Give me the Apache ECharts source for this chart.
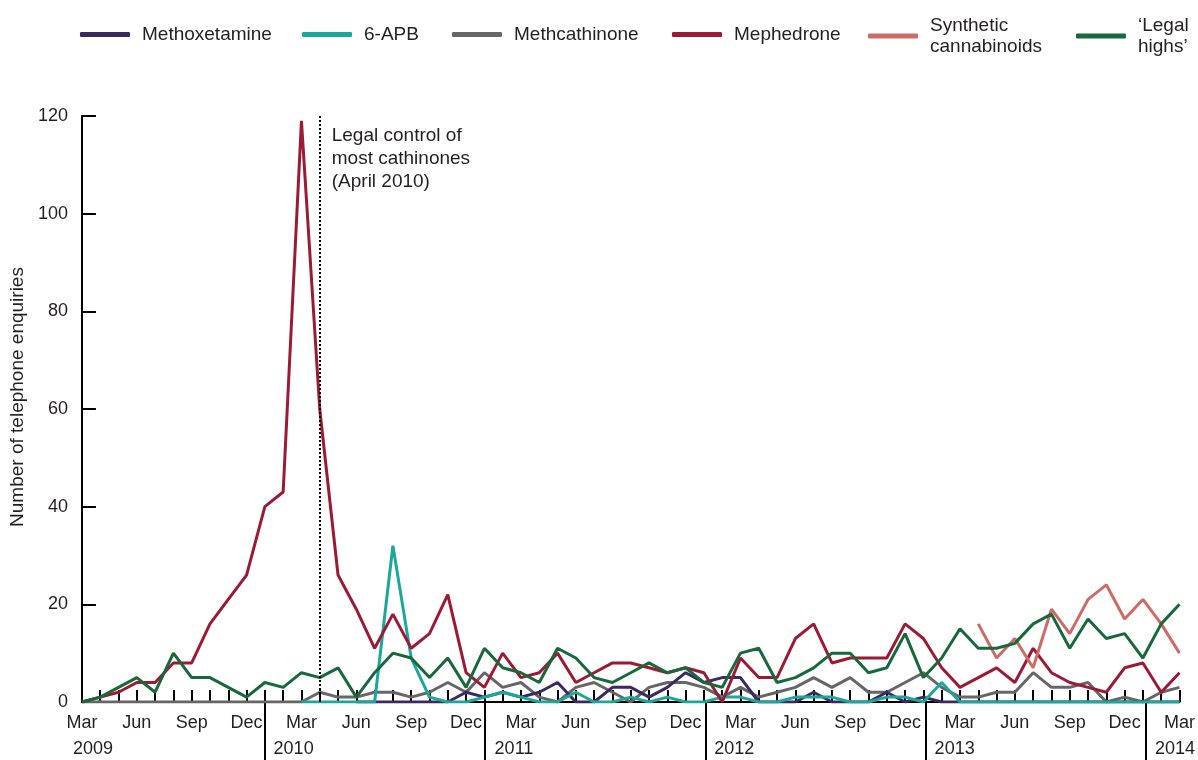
<!DOCTYPE html>
<html>
<head>
<meta charset="utf-8">
<script src="https://cdn.jsdelivr.net/npm/echarts@6/dist/echarts.min.js"></script>
<style>
  html, body { margin: 0; background: #fff; }
  #chart { width: 1198px; height: 760px; }
</style>
</head>
<body>
<div id="chart"></div>
<script>
// monthly telephone enquiries, Mar 2009 - Mar 2014
const months = [
  'Mar 2009', 'Apr 2009', 'May 2009', 'Jun 2009', 'Jul 2009', 'Aug 2009', 'Sep 2009', 'Oct 2009', 'Nov 2009', 'Dec 2009',
  'Jan 2010', 'Feb 2010', 'Mar 2010', 'Apr 2010', 'May 2010', 'Jun 2010', 'Jul 2010', 'Aug 2010', 'Sep 2010', 'Oct 2010', 'Nov 2010', 'Dec 2010',
  'Jan 2011', 'Feb 2011', 'Mar 2011', 'Apr 2011', 'May 2011', 'Jun 2011', 'Jul 2011', 'Aug 2011', 'Sep 2011', 'Oct 2011', 'Nov 2011', 'Dec 2011',
  'Jan 2012', 'Feb 2012', 'Mar 2012', 'Apr 2012', 'May 2012', 'Jun 2012', 'Jul 2012', 'Aug 2012', 'Sep 2012', 'Oct 2012', 'Nov 2012', 'Dec 2012',
  'Jan 2013', 'Feb 2013', 'Mar 2013', 'Apr 2013', 'May 2013', 'Jun 2013', 'Jul 2013', 'Aug 2013', 'Sep 2013', 'Oct 2013', 'Nov 2013', 'Dec 2013',
  'Jan 2014', 'Feb 2014', 'Mar 2014'
]

const methoxetamine = [
  null, null, null, null, null, null, null, null, null, null,
  null, null, null, null, null, 0, 0, 0, 0, 0, 0, 2,
  1, 2, 1, 2, 4, 0, 0, 3, 3, 1, 3, 6,
  4, 5, 5, 0, 0, 0, 2, 0, 0, 0, 2, 0,
  1, 0, 0, 0, 0, 0, 0, 0, 0, 0, 0, 0,
  0, 0, 0
]
const apb = [
  null, null, null, null, null, null, null, null, null, null,
  null, null, 0, 0, 0, 0, 0, 32, 9, 1, 0, 0,
  1, 2, 1, 0, 0, 2, 0, 0, 1, 0, 1, 0,
  0, 1, 1, 0, 0, 1, 1, 1, 0, 0, 1, 1,
  0, 4, 0, 0, 0, 0, 0, 0, 0, 0, 0, 0,
  0, 0, 0
]
const methcathinone = [
  0, 0, 0, 0, 0, 0, 0, 0, 0, 0,
  0, 0, 0, 2, 1, 1, 2, 2, 1, 2, 4, 2,
  6, 3, 4, 1, 0, 3, 4, 2, 0, 3, 4, 4,
  3, 1, 3, 1, 2, 3, 5, 3, 5, 2, 2, 4,
  6, 3, 1, 1, 2, 2, 6, 3, 3, 4, 0, 1,
  0, 2, 3
]
const mephedrone = [
  0, 1, 2, 4, 4, 8, 8, 16, 21, 26,
  40, 43, 119, 60, 26, 19, 11, 18, 11, 14, 22, 6,
  3, 10, 5, 6, 10, 4, 6, 8, 8, 7, 6, 7,
  6, 0, 9, 5, 5, 13, 16, 8, 9, 9, 9, 16,
  13, 7, 3, 5, 7, 4, 11, 6, 4, 3, 2, 7,
  8, 2, 6
]
const cannabinoids = [
  null, null, null, null, null, null, null, null, null, null,
  null, null, null, null, null, null, null, null, null, null, null, null,
  null, null, null, null, null, null, null, null, null, null, null, null,
  null, null, null, null, null, null, null, null, null, null, null, null,
  null, null, null, 16, 9, 13, 7, 19, 14, 21, 24, 17,
  21, 16, 10
]
const legalHighs = [
  0, 1, 3, 5, 2, 10, 5, 5, 3, 1,
  4, 3, 6, 5, 7, 1, 6, 10, 9, 5, 9, 3,
  11, 7, 6, 4, 11, 9, 5, 4, 6, 8, 6, 7,
  4, 3, 10, 11, 4, 5, 7, 10, 10, 6, 7, 14,
  5, 9, 15, 11, 11, 12, 16, 18, 11, 17, 13, 14,
  9, 16, 20
]

const controlMonth = 'Apr 2010'
const controlNote = 'Legal control of\nmost cathinones\n(April 2010)'

const font = 'Liberation Sans, Arial, Helvetica, sans-serif'
const ink = '#231f20'

const chart = echarts.init(document.getElementById('chart'))

function line(name, data, color) {
  return {
    name: name,
    type: 'line',
    data: data,
    showSymbol: false,
    connectNulls: false,
    lineStyle: { color: color, width: 3 },
    itemStyle: { color: color },
    emphasis: { disabled: true },
    animation: false
  }
}

const legendNames = ['Methoxetamine', '6-APB', 'Methcathinone', 'Mephedrone', 'Synthetic cannabinoids', '\u2018Legal highs\u2019']
const legendLeft = [80, 302, 452, 672, 868, 1076]

const isJan = v => v.indexOf('Jan') === 0

const mephedroneSeries = line('Mephedrone', mephedrone, '#9b1b35')
mephedroneSeries.markLine = {
  silent: true,
  symbol: 'none',
  label: { show: false },
  lineStyle: { type: 'dotted', color: '#000', width: 2 },
  data: [{ xAxis: controlMonth }]
}
mephedroneSeries.markPoint = {
  silent: true,
  symbol: 'circle',
  symbolSize: 0,
  data: [{ coord: [controlMonth, 120] }],
  label: {
    show: true,
    position: [12, 8],
    align: 'left',
    verticalAlign: 'top',
    formatter: controlNote,
    fontFamily: font,
    fontSize: 19,
    lineHeight: 23,
    color: ink
  }
}

chart.setOption({
  animation: false,
  backgroundColor: '#fff',
  textStyle: { fontFamily: font },
  legend: legendNames.map((n, k) => ({
    data: [n],
    left: legendLeft[k],
    top: k >= 4 ? 15 : 24,
    padding: 0,
    icon: 'roundRect',
    itemWidth: 50,
    itemHeight: 5,
    selectedMode: false,
    formatter: name => (k >= 4 ? name.replace(' ', '\n') : name),
    textStyle: { fontFamily: font, fontSize: 19, color: ink, lineHeight: 21, padding: [0, 0, 0, 7] }
  })),
  grid: [
    { left: 81, right: 14, top: 116, bottom: 58 },
    { left: 81, right: 14, top: 116, bottom: 58 }
  ],
  xAxis: [
    {
      type: 'category',
      gridIndex: 0,
      data: months,
      boundaryGap: false,
      axisLine: { lineStyle: { color: '#000', width: 2 } },
      axisTick: { inside: true, length: 12, interval: 0, lineStyle: { color: '#000', width: 2 } },
      axisLabel: {
        interval: 2,
        margin: 12,
        formatter: v => v.slice(0, 3),
        fontFamily: font,
        fontSize: 18,
        color: ink
      },
      splitLine: { show: false }
    },
    {
      type: 'category',
      gridIndex: 1,
      data: months,
      boundaryGap: false,
      axisLine: { show: false },
      axisTick: { show: true, inside: false, length: 58, interval: (i, v) => isJan(v), lineStyle: { color: '#000', width: 2 } },
      axisLabel: {
        interval: (i, v) => i === 0 || isJan(v),
        margin: 38,
        formatter: (v, i) => (i === 0 ? '{s|' : '{j|') + v.slice(4) + '}',
        rich: {
          s: { fontFamily: font, fontSize: 18, color: ink, padding: [0, 0, 0, 24] },
          j: { fontFamily: font, fontSize: 18, color: ink, padding: [0, 0, 0, 58] }
        }
      },
      splitLine: { show: false }
    }
  ],
  yAxis: [
    {
      type: 'value',
      gridIndex: 0,
      min: 0,
      max: 120,
      interval: 20,
      name: 'Number of telephone enquiries',
      nameLocation: 'middle',
      nameGap: 53,
      nameTextStyle: { fontFamily: font, fontSize: 19, color: ink, padding: [0, 0, 0, 24] },
      axisLine: { show: true, lineStyle: { color: '#000', width: 2 } },
      axisTick: { show: true, inside: true, length: 14, lineStyle: { color: '#000', width: 2 } },
      axisLabel: { margin: 14, fontFamily: font, fontSize: 18, color: ink },
      splitLine: { show: false }
    },
    { type: 'value', gridIndex: 1, show: false }
  ],
  series: [
    line('Methcathinone', methcathinone, '#666666'),
    line('Methoxetamine', methoxetamine, '#3b2a62'),
    line('6-APB', apb, '#1ba89a'),
    mephedroneSeries,
    line('Synthetic cannabinoids', cannabinoids, '#cd6b66'),
    line('\u2018Legal highs\u2019', legalHighs, '#17683a')
  ]
})
</script>
</body>
</html>
